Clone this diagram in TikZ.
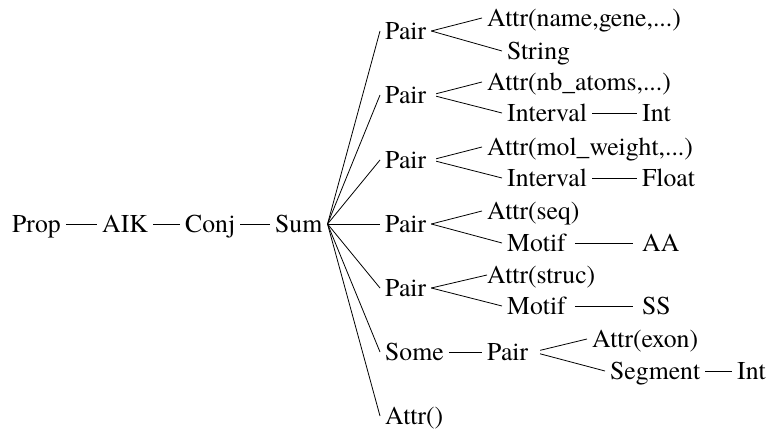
\documentclass[tikz,border=0pt]{standalone}
\usepackage{fontspec}
\newfontfamily\tmsfont{texgyretermes}[Extension=.otf, UprightFont=*-regular]
\begin{document}
\begin{tikzpicture}[x=1pt,y=-1pt,
  lbl/.style={anchor=west, inner xsep=5pt, inner ysep=0pt, text height=17pt, text depth=0pt, font=\tmsfont\fontsize{25.7}{30}\selectfont},
  link/.style={line width=0.8pt}]
\useasboundingbox (0,0) rectangle (768,430);
% main row
\node[lbl] (prop) at (7,224) {Prop};
\node[lbl] (aik)  at (97,224) {AIK};
\node[lbl] (conj) at (180,224) {Conj};
\node[lbl] (sum)  at (270,224) {Sum};
% Pair column
\node[lbl] (p1) at (380,31) {Pair};
\node[lbl] (p2) at (380,95) {Pair};
\node[lbl] (p3) at (380,160) {Pair};
\node[lbl] (p4) at (380,224) {Pair};
\node[lbl] (p5) at (380,288) {Pair};
\node[lbl] (some) at (380,352) {Some};
\node[lbl] (ae) at (380,416) {Attr()};
% Attr column
\node[lbl] (a1) at (482,18) {Attr(name,gene,...)};
\node[lbl] (a2) at (482,82) {Attr(nb\_atoms,...)};
\node[lbl] (a3) at (482,147) {Attr(mol\_weight,...)};
\node[lbl] (a4) at (482,211) {Attr(seq)};
\node[lbl] (a5) at (482,275) {Attr(struc)};
\node[lbl] (p6) at (482,352) {Pair};
% second children
\node[lbl] (s1) at (502,51) {String};
\node[lbl] (i2) at (502,113) {Interval};
\node[lbl] (i3) at (502,178) {Interval};
\node[lbl] (m4) at (502,243) {Motif};
\node[lbl] (m5) at (502,306) {Motif};
% leaves
\node[lbl] (int2) at (637,113) {Int};
\node[lbl] (fl3)  at (637,178) {Float};
\node[lbl] (aa4)  at (637,243) {AA};
\node[lbl] (ss5)  at (637,306) {SS};
% Some branch
\node[lbl] (a6)   at (587,339) {Attr(exon)};
\node[lbl] (seg)  at (605,371) {Segment};
\node[lbl] (int6) at (732,371) {Int};
% connectors
\draw[link] (prop) -- (aik);
\draw[link] (aik) -- (conj);
\draw[link] (conj) -- (sum);
\foreach \t in {p1,p2,p3,p4,p5,some,ae} \draw[link] (sum.east) -- (\t.west);
\draw[link] (p1.east) -- (a1.west);
\draw[link] (p1.east) -- (s1.west);
\draw[link, shorten <=5pt] (p2.east) -- (a2.west);
\draw[link, shorten <=5pt] (p2.east) -- (i2.west);
\draw[link, shorten <=5pt] (p3.east) -- (a3.west);
\draw[link, shorten <=5pt] (p3.east) -- (i3.west);
\draw[link] (p4.east) -- (a4.west);
\draw[link] (p4.east) -- (m4.west);
\draw[link] (p5.east) -- ([xshift=5pt]a5.west);
\draw[link] (p5.east) -- (m5.west);
\draw[link] (i2) -- (int2);
\draw[link] (i3) -- (fl3);
\draw[link, shorten <=4pt, shorten >=4pt] (m4) -- (aa4);
\draw[link, shorten <=4pt, shorten >=4pt] (m5) -- (ss5);
\draw[link] (some) -- (p6);
\draw[link, shorten <=7pt] (p6.east) -- (a6.west);
\draw[link, shorten <=7pt] (p6.east) -- (seg.west);
\draw[link] (seg) -- (int6);
\end{tikzpicture}
\end{document}
